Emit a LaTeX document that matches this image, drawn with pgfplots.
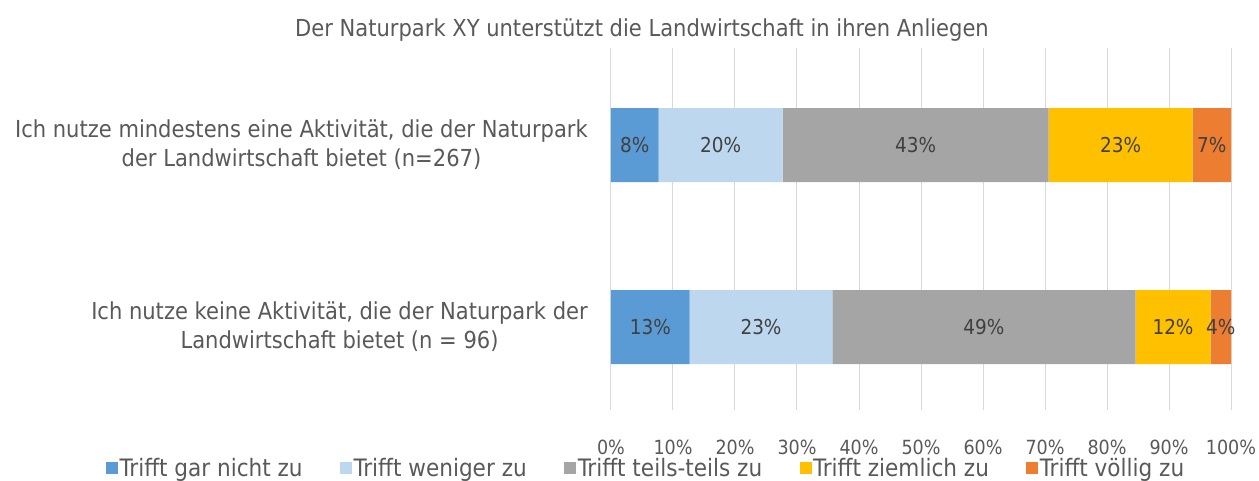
\documentclass[border=0pt]{standalone}
\usepackage{pgfplots}
\pgfplotsset{compat=1.18}
\usepackage{fontspec}
\setmainfont{DejaVu Sans Condensed}
\definecolor{cA}{HTML}{5B9BD5}
\definecolor{cB}{HTML}{BDD7EE}
\definecolor{cC}{HTML}{A5A5A5}
\definecolor{cD}{HTML}{FFC000}
\definecolor{cE}{HTML}{ED7D31}
\definecolor{txt}{HTML}{595959}
\definecolor{lbl}{HTML}{404040}
\definecolor{grd}{HTML}{D9D9D9}
\begin{document}
\begin{tikzpicture}[x=1pt,y=1pt]
\useasboundingbox (0,0) rectangle (1259,-480);
\node[text=txt,font=\fontsize{23.4}{28}\selectfont] at (642,-30) {Der Naturpark XY unterstützt die Landwirtschaft in ihren Anliegen};
\begin{axis}[
  at={(611pt,-410pt)}, anchor=south west,
  scale only axis, width=620pt, height=362pt,
  xbar stacked, bar width=74pt,
  xmin=0, xmax=100, ymin=-0.456, ymax=1.533,
  xtick={0,10,...,100},
  /pgf/number format/assume math mode=true,
  xticklabel={\pgfmathprintnumber{\tick}\%},
  xticklabel style={anchor=center, yshift=-37pt, text=txt, font=\fontsize{19.5}{23}\selectfont},
  ytick={0,1},
  yticklabels={{Ich nutze keine Aktivität, die der Naturpark der\\Landwirtschaft bietet (n = 96)},{Ich nutze mindestens eine Aktivität, die der Naturpark\\der Landwirtschaft bietet (n=267)}},
  yticklabel style={align=center, anchor=east, inner sep=0pt, xshift=-23pt, text=txt, font=\fontsize{23.4}{29}\selectfont},
  major tick length=0pt,
  axis line style={draw=none},
  xmajorgrids, grid style={grd, line width=1pt},
  point meta=explicit symbolic,
  nodes near coords,
  every node near coord/.append style={anchor=center, text=lbl, font=\fontsize{20.5}{24}\selectfont},
  legend columns=5,
  legend style={at={(axis description cs:-0.8145,-0.160)}, anchor=west, draw=none, fill=none, inner sep=0pt,
    font=\fontsize{24}{28}\selectfont, text=txt, nodes={inner sep=1.5pt},
    /tikz/every even column/.append style={column sep=36pt}},
  legend image code/.code={\fill[#1,draw=none] (0pt,-6pt) rectangle (12pt,6pt);},
]
\addplot[fill=cA, draw=none] table[x=v, y=y, meta=l] {
y v l
0 12.7 13\%
1 7.7 8\%
};
\addplot[fill=cB, draw=none] table[x=v, y=y, meta=l] {
y v l
0 23.0 23\%
1 20.0 20\%
};
\addplot[fill=cC, draw=none] table[x=v, y=y, meta=l] {
y v l
0 48.9 49\%
1 42.9 43\%
};
\addplot[fill=cD, draw=none] table[x=v, y=y, meta=l] {
y v l
0 12.1 12\%
1 23.2 23\%
};
\addplot[fill=cE, draw=none] table[x=v, y=y, meta=l] {
y v l
0 3.3 4\%
1 6.2 7\%
};
\legend{Trifft gar nicht zu, Trifft weniger zu, Trifft teils-teils zu, Trifft ziemlich zu, Trifft völlig zu}
\end{axis}
\end{tikzpicture}
\end{document}
